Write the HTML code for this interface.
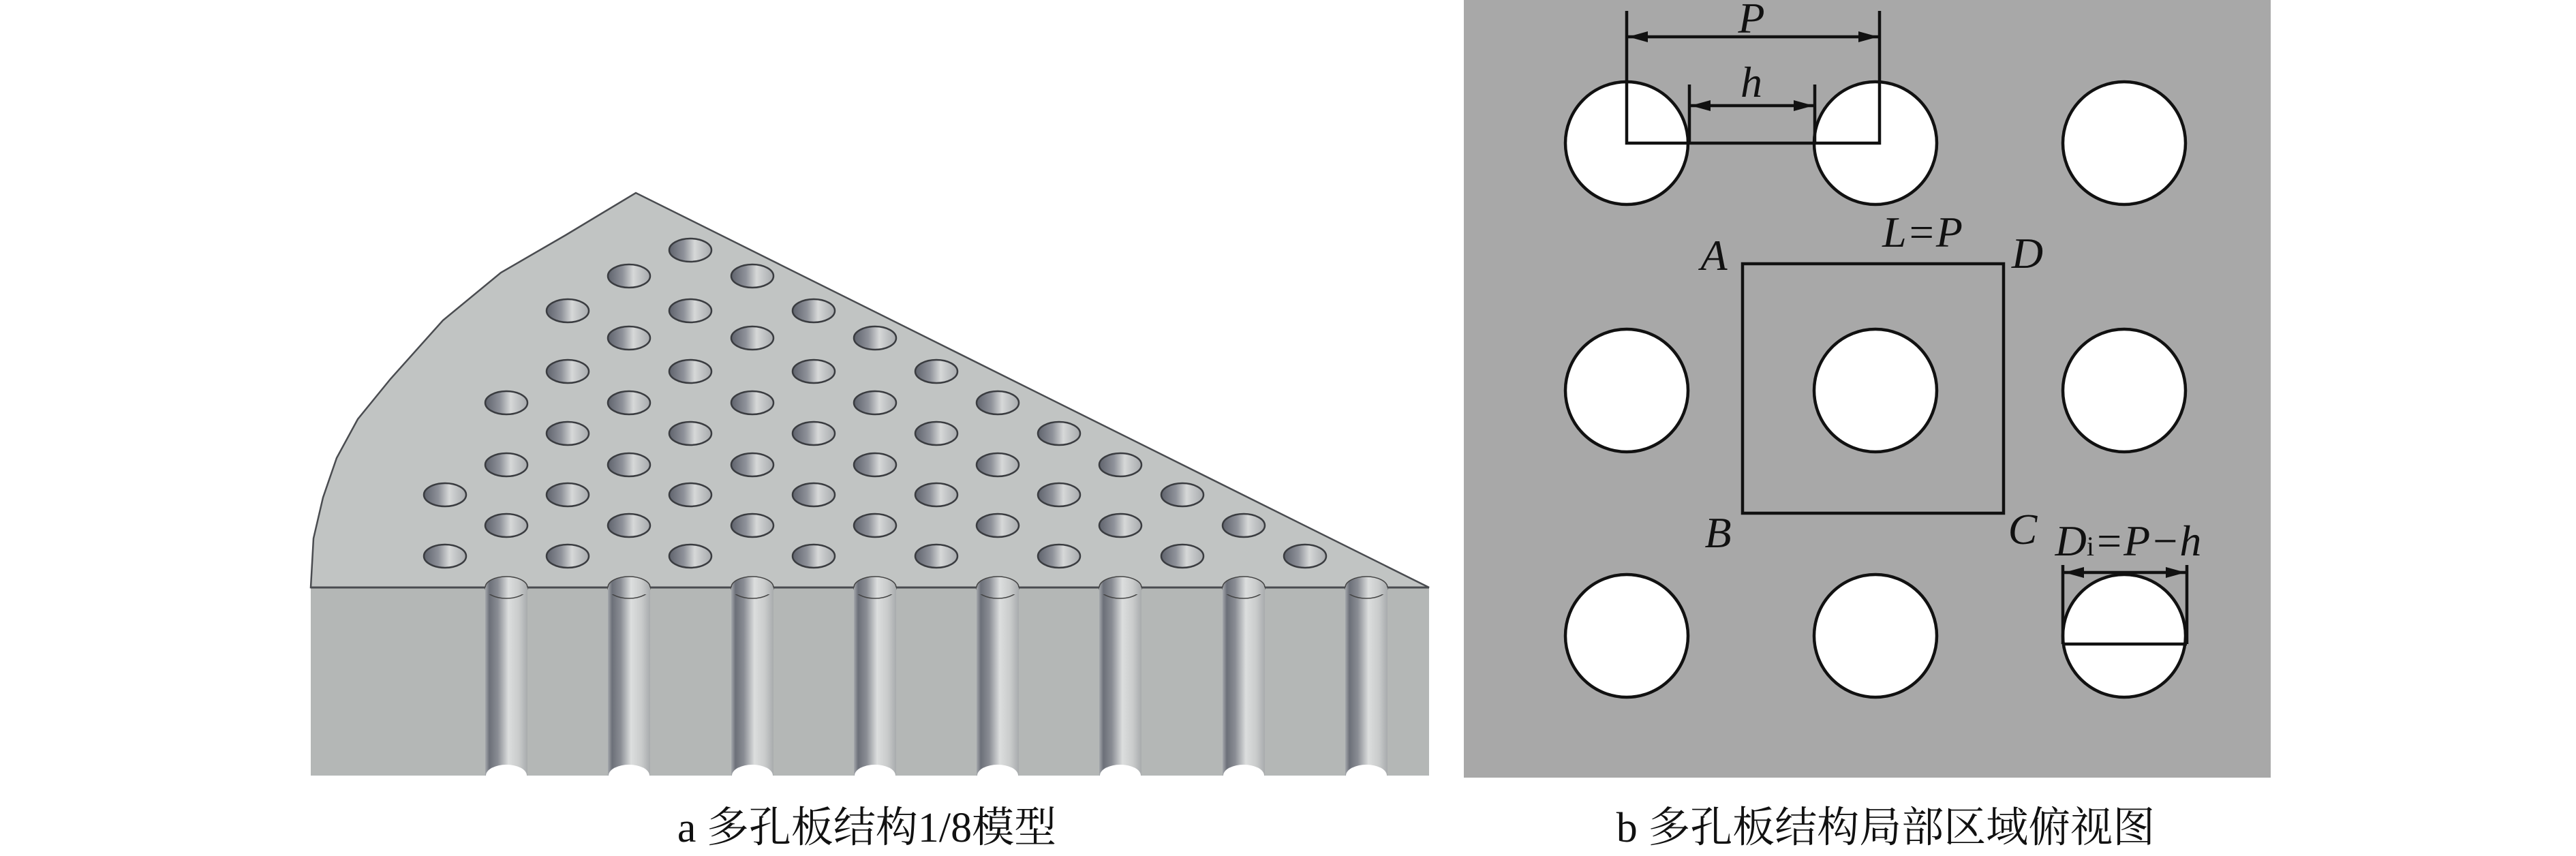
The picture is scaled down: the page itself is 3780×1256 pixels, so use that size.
<!DOCTYPE html>
<html><head><meta charset="utf-8"><style>html,body{margin:0;padding:0;background:#fff}svg{display:block}</style></head><body>
<svg xmlns="http://www.w3.org/2000/svg" xmlns:xlink="http://www.w3.org/1999/xlink" width="3780" height="1256" viewBox="0 0 3780 1256">
<defs>
<linearGradient id="hg" x1="0" x2="1" y1="0" y2="0">
<stop offset="0" stop-color="#5f636d"/><stop offset="0.35" stop-color="#8f929a"/><stop offset="0.6" stop-color="#d6d8d8"/><stop offset="1" stop-color="#a7aaad"/></linearGradient>
<linearGradient id="gg" x1="0" x2="1" y1="0" y2="0">
<stop offset="0" stop-color="#a5a8ac"/><stop offset="0.1" stop-color="#6c7079"/><stop offset="0.3" stop-color="#8a8d94"/><stop offset="0.55" stop-color="#dcdede"/><stop offset="0.8" stop-color="#c9cbcb"/><stop offset="1" stop-color="#a8abad"/></linearGradient>
<g id="hole"><ellipse cx="0" cy="0" rx="31" ry="17" fill="url(#hg)" stroke="#3a3c40" stroke-width="2.5"/></g>
<g id="gr">
<rect x="-31" y="862" width="62" height="276" fill="url(#gg)"/>
<ellipse cx="0" cy="862" rx="31" ry="16" fill="url(#gg)" stroke="#444" stroke-width="1.5"/>
<rect x="-31" y="862" width="62" height="10" fill="url(#gg)"/>
<ellipse cx="0" cy="1138" rx="30" ry="16" fill="#fff"/>
</g>
</defs>
<rect width="3780" height="1256" fill="#fff"/>
<path d="M456,862 L460,790 L474,730 L494,672 L525,615 L573,556 L650,470 L735,400 L830,345 L933,283 L2097,862 Z" fill="#c1c4c3" stroke="#4a4c50" stroke-width="2.5"/>
<rect x="456" y="862" width="1641" height="276" fill="#b4b7b6"/>
<line x1="456" y1="862" x2="2097" y2="862" stroke="#4a4c50" stroke-width="3"/>
<use xlink:href="#gr" x="743"/><use xlink:href="#gr" x="923"/><use xlink:href="#gr" x="1104"/><use xlink:href="#gr" x="1284"/><use xlink:href="#gr" x="1464"/><use xlink:href="#gr" x="1644"/><use xlink:href="#gr" x="1825"/><use xlink:href="#gr" x="2005"/>
<rect x="440" y="1139" width="1680" height="40" fill="#fff"/>
<g>
<use xlink:href="#hole" x="1013" y="367"/>
<use xlink:href="#hole" x="923" y="405"/><use xlink:href="#hole" x="1104" y="405"/>
<use xlink:href="#hole" x="833" y="456"/><use xlink:href="#hole" x="1013" y="456"/><use xlink:href="#hole" x="1194" y="456"/>
<use xlink:href="#hole" x="923" y="496"/><use xlink:href="#hole" x="1104" y="496"/><use xlink:href="#hole" x="1284" y="496"/>
<use xlink:href="#hole" x="833" y="545"/><use xlink:href="#hole" x="1013" y="545"/><use xlink:href="#hole" x="1194" y="545"/><use xlink:href="#hole" x="1374" y="545"/>
<use xlink:href="#hole" x="743" y="591"/><use xlink:href="#hole" x="923" y="591"/><use xlink:href="#hole" x="1104" y="591"/><use xlink:href="#hole" x="1284" y="591"/><use xlink:href="#hole" x="1464" y="591"/>
<use xlink:href="#hole" x="833" y="636"/><use xlink:href="#hole" x="1013" y="636"/><use xlink:href="#hole" x="1194" y="636"/><use xlink:href="#hole" x="1374" y="636"/><use xlink:href="#hole" x="1554" y="636"/>
<use xlink:href="#hole" x="743" y="682"/><use xlink:href="#hole" x="923" y="682"/><use xlink:href="#hole" x="1104" y="682"/><use xlink:href="#hole" x="1284" y="682"/><use xlink:href="#hole" x="1464" y="682"/><use xlink:href="#hole" x="1644" y="682"/>
<use xlink:href="#hole" x="653" y="726"/><use xlink:href="#hole" x="833" y="726"/><use xlink:href="#hole" x="1013" y="726"/><use xlink:href="#hole" x="1194" y="726"/><use xlink:href="#hole" x="1374" y="726"/><use xlink:href="#hole" x="1554" y="726"/><use xlink:href="#hole" x="1735" y="726"/>
<use xlink:href="#hole" x="743" y="771"/><use xlink:href="#hole" x="923" y="771"/><use xlink:href="#hole" x="1104" y="771"/><use xlink:href="#hole" x="1284" y="771"/><use xlink:href="#hole" x="1464" y="771"/><use xlink:href="#hole" x="1644" y="771"/><use xlink:href="#hole" x="1825" y="771"/>
<use xlink:href="#hole" x="653" y="816"/><use xlink:href="#hole" x="833" y="816"/><use xlink:href="#hole" x="1013" y="816"/><use xlink:href="#hole" x="1194" y="816"/><use xlink:href="#hole" x="1374" y="816"/><use xlink:href="#hole" x="1554" y="816"/><use xlink:href="#hole" x="1735" y="816"/><use xlink:href="#hole" x="1915" y="816"/>
</g>
<text x="1272" y="1235" text-anchor="middle" font-family="'Liberation Serif','Noto Serif CJK SC',serif" font-size="62" fill="#111">a  多孔板结构1/8模型</text>
<rect x="2148" y="0" width="1184" height="1141" fill="#a8a8a8"/>
<g fill="#fff" stroke="#111" stroke-width="4.5">
<circle cx="2387" cy="210" r="90"/><circle cx="2752" cy="210" r="90"/><circle cx="3117" cy="210" r="90"/>
<circle cx="2387" cy="573" r="90"/><circle cx="2752" cy="573" r="90"/><circle cx="3117" cy="573" r="90"/>
<circle cx="2387" cy="933" r="90"/><circle cx="2752" cy="933" r="90"/><circle cx="3117" cy="933" r="90"/>
</g>
<g stroke="#111" stroke-width="4.5" fill="none">
<rect x="2557" y="387" width="383" height="366"/>
<polyline points="2387,16 2387,210 2758,210 2758,16"/>
<line x1="2479" y1="124" x2="2479" y2="210"/><line x1="2663" y1="124" x2="2663" y2="210"/>
<line x1="2387" y1="54" x2="2758" y2="54"/>
<line x1="2479" y1="155" x2="2663" y2="155"/>
<line x1="3027" y1="829" x2="3027" y2="945"/><line x1="3209" y1="829" x2="3209" y2="945"/>
<line x1="3027" y1="840" x2="3209" y2="840"/>
<line x1="3027" y1="945" x2="3209" y2="945"/>
</g>
<g fill="#111">
<polygon points="2389,54 2418,46 2418,62"/><polygon points="2756,54 2727,46 2727,62"/>
<polygon points="2481,155 2510,147 2510,163"/><polygon points="2661,155 2632,147 2632,163"/>
<polygon points="3029,840 3058,832 3058,848"/><polygon points="3207,840 3178,832 3178,848"/>
</g>
<g font-family="'Liberation Serif',serif" font-style="italic" font-size="64" fill="#111" text-anchor="middle">
<text x="2570" y="48">P</text>
<text x="2570" y="142">h</text>
<text x="2515" y="396">A</text>
<text x="2975" y="393">D</text>
<text x="2821" y="362">L=P</text>
<text x="2521" y="803">B</text>
<text x="2968" y="798">C</text>
<text x="3123" y="815">D<tspan font-style="normal" font-size="40">i</tspan>=P−h</text>
</g>
<text x="2767" y="1235" text-anchor="middle" font-family="'Liberation Serif','Noto Serif CJK SC',serif" font-size="62" fill="#111">b  多孔板结构局部区域俯视图</text>
</svg>
</body></html>
